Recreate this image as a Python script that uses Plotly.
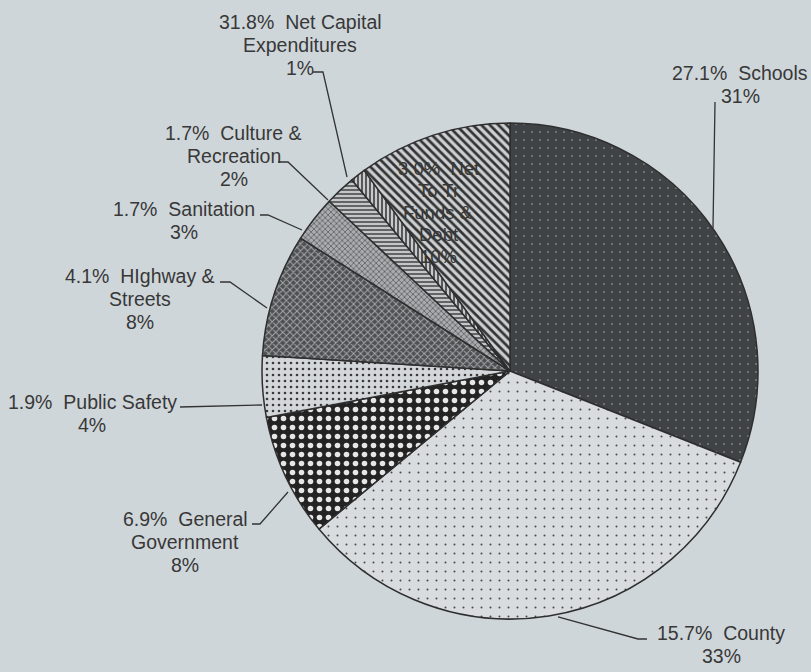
import plotly.graph_objects as go

W, H = 811, 672

# ---- data ----
categories = ["Schools", "County", "General Government", "Public Safety",
              "Highway & Streets", "Sanitation", "Culture & Recreation",
              "Net Capital Expenditures", "Net To Tr Funds & Debt"]
shares = [31, 33, 8, 4, 8, 3, 2, 1, 10]
first_pcts = ["27.1%", "15.7%", "6.9%", "1.9%", "4.1%", "1.7%", "1.7%", "31.8%", "3.0%"]
label_names = ["Schools", "County", "General|Government", "Public Safety",
               "HIghway &|Streets", "Sanitation", "Culture &|Recreation",
               "Net Capital|Expenditures", "Net|To Tr|Funds &|Debt"]

# ---- styles ----
bg_colors = ["#404346", "#d8dcdf", "#232323", "#d3d7da", "#4e5052",
             "#a9acae", "#c4c7c9", "#c8cbcd", "#cdd0d2"]
fg_colors = ["#7d8184", "#4a4a4a", "#e6e6e6", "#3a3a3a", "#a5a8aa",
             "#5a5c5e", "#4a4a4a", "#3a3a3a", "#333333"]
shapes_pat = [".", ".", ".", ".", "x", "x", "-", "|", "\\"]
sizes_pat = [8, 9, 9, 6, 5, 4, 4, 4, 6]
solid_pat = [0.05, 0.04, 0.3, 0.15, 0.35, 0.35, 0.4, 0.4, 0.45]

cx, cy, r = 510, 371, 248

fig = go.Figure()
fig.add_trace(go.Pie(
    labels=categories, values=shares, sort=False, direction="clockwise",
    rotation=0, textinfo="none", hoverinfo="label+percent",
    showlegend=False,
    domain=dict(x=[(cx - r) / W, (cx + r) / W], y=[1 - (cy + r) / H, 1 - (cy - r) / H]),
    marker=dict(colors=bg_colors,
                line=dict(color="#2e2e2e", width=1.5),
                pattern=dict(shape=shapes_pat, fgcolor=fg_colors, bgcolor=bg_colors,
                             size=sizes_pat, solidity=solid_pat, fillmode="replace")),
))

# label block centres (pixels)
label_xy = [(740, 84.5), (721, 644), (185, 542), (92, 413), (140, 299),
            (184, 220), (234, 156), (300, 45), (438, 212)]
label_sizes = [19.5, 19.5, 19.5, 19.5, 19.5, 19.5, 19.5, 19.5, 18.5]
line_gap = [23, 23, 23, 23, 23, 23, 23, 23, 22]

annotations = []
for i in range(len(categories)):
    parts = label_names[i].split("|")
    lines = [f"{first_pcts[i]}\u00a0 {parts[0]}"] + parts[1:] + [f"{shares[i]}%"]
    x, yc = label_xy[i]
    n = len(lines)
    for j, ln in enumerate(lines):
        y = yc + (j - (n - 1) / 2) * line_gap[i]
        annotations.append(dict(x=x / W, y=1 - y / H, xref="paper", yref="paper",
                                text=ln, showarrow=False, xanchor="center", yanchor="middle",
                                font=dict(family="Liberation Sans, Arial, sans-serif",
                                          size=label_sizes[i], color="#383838")))

# leader lines (pixels)
leaders = [
    [(715, 102), (713, 228)],
    [(647, 639), (638, 639), (558, 617)],
    [(252, 524), (260, 524), (288, 492)],
    [(180, 407), (262, 405)],
    [(220, 282), (230, 282), (267, 308)],
    [(260, 215), (268, 215), (302, 230)],
    [(278, 162), (288, 162), (328, 200)],
    [(313, 72), (323, 72), (347, 177)],
]
shapes = []
for pts in leaders:
    path = "M " + " L ".join(f"{x / W:.5f},{1 - y / H:.5f}" for x, y in pts)
    shapes.append(dict(type="path", path=path, xref="paper", yref="paper",
                       line=dict(color="#333333", width=1.3)))

fig.update_layout(
    width=W, height=H,
    margin=dict(l=0, r=0, t=0, b=0),
    paper_bgcolor="#cfd6da", plot_bgcolor="#cfd6da",
    annotations=annotations, shapes=shapes,
)

fig.write_html("out.html", config={"displayModeBar": False},
               post_script="document.body.style.margin='0';document.body.style.padding='0';document.body.style.background='#cfd6da';")
